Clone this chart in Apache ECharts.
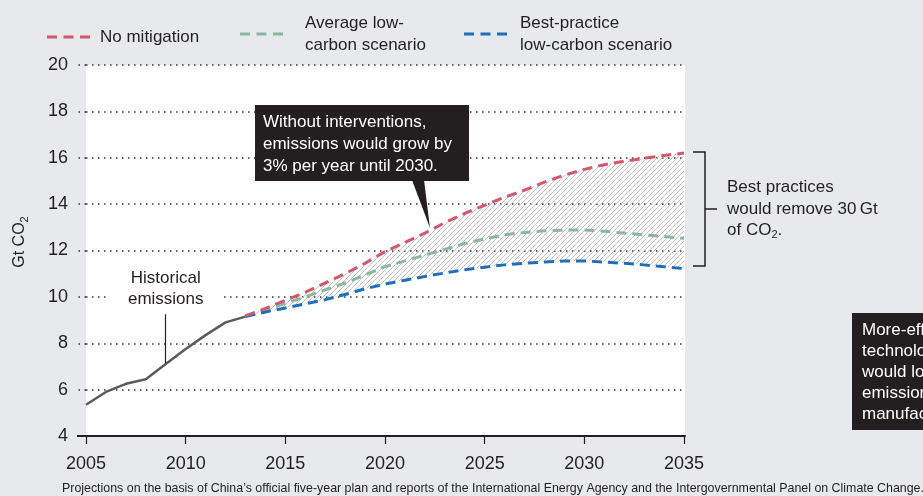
<!DOCTYPE html>
<html><head><meta charset="utf-8">
<script src="https://cdn.jsdelivr.net/npm/echarts@6/dist/echarts.min.js"></script>
<style>html,body{margin:0;padding:0;background:#e7e9ec}#c{width:923px;height:496px}</style>
</head><body><div id="c"></div><script>
// ---- data ----
const histYears = [2005,2006,2007,2008,2009,2010,2011,2012,2013];
const historical = [5.35,5.9,6.25,6.45,7.1,7.75,8.35,8.9,9.15];
const projYears = [2013,2014,2015,2016,2017,2018,2019,2020,2021,2022,2023,2024,2025,2026,2027,2028,2029,2030,2031,2032,2033,2034,2035];
const noMitigation = [9.18,9.5,9.85,10.2,10.6,11.0,11.45,11.95,12.35,12.75,13.2,13.6,13.95,14.3,14.6,14.95,15.25,15.5,15.7,15.85,15.98,16.1,16.2];
const avgLowCarbon = [9.18,9.45,9.72,10.0,10.3,10.6,10.95,11.3,11.55,11.8,12.05,12.3,12.5,12.68,12.78,12.85,12.88,12.88,12.83,12.75,12.67,12.6,12.53];
const bestPractice = [9.15,9.35,9.52,9.7,9.88,10.1,10.35,10.55,10.72,10.88,11.03,11.17,11.28,11.38,11.45,11.5,11.55,11.55,11.5,11.45,11.38,11.3,11.22];
const xTickYears = [2005,2010,2015,2020,2025,2030,2035];
const seriesNames = ['No mitigation','Average low-\ncarbon scenario','Best-practice\nlow-carbon scenario'];
const historicalLabel = 'Historical\nemissions';
const historicalLeader = [[2009, 7.15],[2009, 9.25]];

// ---- styles ----
const FONT = "'Liberation Sans', Arial, sans-serif";
const INK = '#231f20';
const RED = '#d6566c', GREEN = '#8ab89e', BLUE = '#1b6fbe', HIST = '#5b5b5b';
const DASH = [10, 6];
const DOT = [1.5, 4.5];

function pairs(xs, ys){ return xs.map((x,i)=>[x, ys[i]]); }
function hatchPattern(){
  const s = 5, c = document.createElement('canvas'); c.width = s; c.height = s;
  const g = c.getContext('2d'); g.strokeStyle = '#b4b4b4'; g.lineWidth = 0.8;
  g.beginPath(); g.moveTo(0,s); g.lineTo(s,0); g.moveTo(-1,1); g.lineTo(1,-1); g.moveTo(s-1,s+1); g.lineTo(s+1,s-1); g.stroke();
  return c;
}
const HATCH = hatchPattern();
const dashIcon = 'path://M0,0H10V3H0Z M16.5,0H26.5V3H16.5Z M33,0H43V3H33Z';

const chart = echarts.init(document.getElementById('c'), null, {renderer:'canvas'});
function legend(name, left, gap){
  return {data:[name], left:left, top: name.indexOf('\n')>=0 ? 12 : 26, padding:0, icon:dashIcon, itemWidth:43, itemHeight:3,
    symbolKeepAspect:false, selectedMode:false,
    textStyle:{fontSize:17, fontFamily:FONT, color:INK, lineHeight:22, padding:[0,0,0,gap]}};
}
function renderBand(params, api){
  const upper = projYears.map((x,i)=>api.coord([x, noMitigation[i]]));
  const lower = projYears.map((x,i)=>api.coord([x, bestPractice[i]])).reverse();
  return {type:'polygon', shape:{points:upper.concat(lower)},
    style:{fill:{image:HATCH, repeat:'repeat'}, stroke:null}};
}
const option = {
  backgroundColor:'#e7e9ec',
  animation:false,
  grid:{left:86, right:238, top:65, bottom:60, containLabel:false, show:true, backgroundColor:'#ffffff', borderWidth:0},
  legend:[legend(seriesNames[0],47,5), legend(seriesNames[1],240,17), legend(seriesNames[2],464,8)],
  xAxis:{type:'value', min:2005, max:2035.05,
    axisLine:{show:true, onZero:false, lineStyle:{color:INK, width:2}},
    axisTick:{show:true, customValues:xTickYears, length:8, lineStyle:{color:INK, width:1.2}},
    axisLabel:{customValues:xTickYears, formatter:v=>String(v), fontSize:18, fontFamily:FONT, color:INK, margin:19},
    splitLine:{show:false}},
  yAxis:{type:'value', min:4, max:20, interval:2,
    axisLine:{show:false},
    axisTick:{show:true, length:9, lineStyle:{type:DOT, color:'#333', width:1.5}},
    axisLabel:{fontSize:18, fontFamily:FONT, color:INK, margin:18},
    splitLine:{lineStyle:{type:DOT, color:'#333', width:1.5}}},
  series:[
    {name:'_band', type:'custom', silent:true, clip:true, z:2, renderItem:renderBand,
      data:[[projYears[0], bestPractice[0]]], encode:{x:0, y:1}},
    {name:seriesNames[1], type:'line', symbol:'none', z:3, itemStyle:{color:GREEN},
      lineStyle:{color:GREEN, width:3, type:DASH}, data:pairs(projYears, avgLowCarbon)},
    {name:seriesNames[2], type:'line', symbol:'none', z:3, itemStyle:{color:BLUE},
      lineStyle:{color:BLUE, width:3, type:DASH}, data:pairs(projYears, bestPractice)},
    {name:seriesNames[0], type:'line', symbol:'none', z:4, itemStyle:{color:RED},
      lineStyle:{color:RED, width:3, type:DASH}, data:pairs(projYears, noMitigation)},
    {name:'Historical', type:'line', symbol:'none', z:4, itemStyle:{color:HIST},
      lineStyle:{color:HIST, width:2.5}, data:pairs(histYears, historical),
      markLine:{silent:true, symbol:'none', lineStyle:{color:INK, width:1.2, type:'solid'},
        label:{show:true, position:'end', formatter:historicalLabel, fontSize:17, fontFamily:FONT, color:INK, lineHeight:21, distance:2,
          backgroundColor:'#ffffff', padding:[1,20,2,20]},
        data:[[{coord:historicalLeader[0]},{coord:historicalLeader[1]}]]}}
  ],
  graphic:[
    {type:'line', shape:{x1:77, y1:436, x2:87, y2:436}, style:{stroke:INK, lineWidth:2}, z:10},
    {type:'text', x:20, y:242, rotation:Math.PI/2, style:{text:'{a|Gt CO}{s|2}', align:'center', verticalAlign:'middle',
      rich:{a:{fontSize:16, fontFamily:FONT, fill:INK}, s:{fontSize:11, fontFamily:FONT, fill:INK, padding:[9,0,0,0]}}}},
    {type:'rect', z:20, shape:{x:255, y:105, width:214, height:76}, style:{fill:INK}},
    {type:'polygon', z:20, shape:{points:[[412,180],[424,180],[430,228]]}, style:{fill:INK}},
    {type:'text', z:21, x:263, y:111, style:{text:'Without interventions,\nemissions would grow by\n3% per year until 2030.',
      fill:'#ffffff', fontSize:17, fontFamily:FONT, lineHeight:22}},
    {type:'polyline', shape:{points:[[693,152],[705,152],[705,266],[693,266]]}, style:{stroke:INK, lineWidth:1.5, fill:null}},
    {type:'line', shape:{x1:705, y1:209, x2:717, y2:209}, style:{stroke:INK, lineWidth:1.5}},
    {type:'text', x:727, y:177, style:{text:'{a|Best practices}\n{a|would remove 30\u2009Gt}\n{a|of CO}{s|2}{a|.}',
      rich:{a:{fontSize:17, fontFamily:FONT, fill:INK, lineHeight:21.5}, s:{fontSize:11, fontFamily:FONT, fill:INK, padding:[9,0,0,0], lineHeight:21.5}}}},
    {type:'rect', shape:{x:852, y:313, width:90, height:117}, style:{fill:INK}},
    {type:'text', x:862, y:320, style:{text:'More-efficient\ntechnologies\nwould lower\nemissions in\nmanufacturing',
      fill:'#ffffff', fontSize:17, fontFamily:FONT, lineHeight:21}},
    {type:'text', x:62, y:489, style:{text:"Projections on the basis of China\u2019s official five-year plan and reports of the International Energy Agency and the Intergovernmental Panel on Climate Change.",
      fill:INK, fontSize:12.4, fontFamily:FONT, verticalAlign:'middle'}}
  ]
};
chart.setOption(option);
</script></body></html>
